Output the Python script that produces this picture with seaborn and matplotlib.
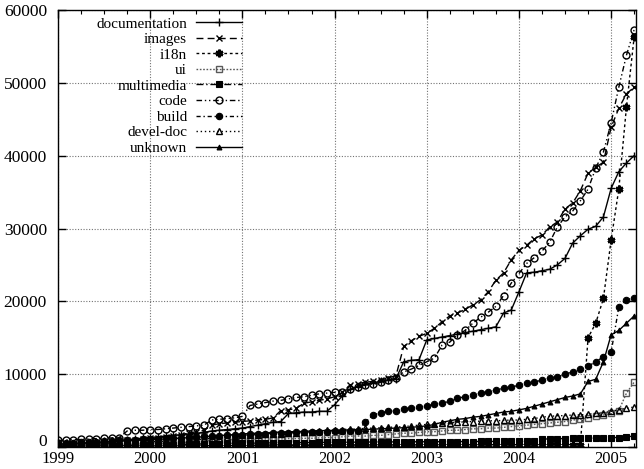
import numpy as np
import pandas as pd
import matplotlib
matplotlib.use("Agg")
import matplotlib.pyplot as plt
from matplotlib.ticker import MultipleLocator, FuncFormatter
import seaborn as sns

# monthly snapshots, Jan 1999 .. Apr 2005
months = pd.date_range("1999-01-01", "2005-04-01", freq="MS")

documentation = [300, 350, 400, 450, 500, 600, 700, 800, 900, 1000, 1100, 1200,
                 1300, 1400, 1500, 1600, 1700, 1800, 1900, 2000, 2200, 2300, 2400, 2500,
                 2600, 2800, 3000, 3200, 3400, 3500, 4600, 4700, 4800, 4800, 4900, 4900,
                 5800, 7000, 7900, 8300, 8600, 8800, 9000, 9200, 9400, 11700, 11900, 12000,
                 14700, 14900, 15100, 15300, 15500, 15700, 15900, 16100, 16300, 16500, 18400, 18800,
                 21300, 23900, 24000, 24200, 24400, 25000, 25900, 28000, 29000, 29900, 30300, 31600,
                 35500, 37800, 39000, 40000]
images = [300, 350, 400, 450, 500, 550, 600, 700, 800, 900, 1000, 1100,
          1200, 1300, 1400, 1500, 1700, 1900, 2100, 2300, 3000, 3200, 3300, 3400,
          3500, 3600, 3700, 3800, 4000, 5000, 5100, 5300, 6000, 6200, 6400, 6600,
          6900, 7500, 8500, 8700, 8900, 9000, 9200, 9500, 9800, 13800, 14600, 15200,
          15600, 16300, 17200, 18000, 18400, 18900, 19500, 20200, 21300, 22900, 23900, 25700,
          27000, 27700, 28600, 29100, 30200, 30900, 32700, 33500, 35200, 37600, 38400, 39100,
          43900, 46500, 48500, 49400]
i18n = [100, 100, 100, 100, 100, 120, 120, 120, 120, 130, 130, 130,
        150, 150, 150, 160, 160, 170, 170, 180, 180, 190, 190, 200,
        200, 200, 210, 210, 220, 220, 220, 230, 230, 230, 240, 240,
        250, 250, 250, 260, 260, 260, 270, 270, 270, 280, 280, 280,
        290, 290, 290, 300, 300, 300, 300, 300, 310, 310, 310, 310,
        320, 320, 320, 320, 330, 330, 330, 330, 340, 15000, 17000, 20400,
        28400, 35400, 46700, 56300]
ui = [100, 120, 150, 180, 200, 230, 260, 300, 330, 360, 400, 430,
      460, 500, 530, 560, 600, 650, 700, 800, 900, 950, 1000, 1000,
      1000, 1050, 1050, 1100, 1100, 1100, 1150, 1150, 1200, 1200, 1250, 1300,
      1300, 1400, 1500, 1500, 1500, 1600, 1600, 1700, 1800, 1900, 1900, 2000,
      2100, 2100, 2200, 2300, 2300, 2400, 2500, 2500, 2600, 2600, 2700, 2800,
      2900, 3000, 3100, 3200, 3300, 3400, 3500, 3700, 3800, 4000, 4200, 4400,
      4600, 5000, 7400, 8900]
multimedia = [50, 60, 80, 100, 120, 140, 160, 180, 200, 220, 240, 260,
              280, 300, 320, 340, 360, 380, 400, 420, 440, 460, 480, 500,
              500, 520, 540, 550, 560, 570, 580, 590, 600, 610, 620, 630,
              640, 650, 660, 670, 680, 690, 700, 700, 700, 710, 710, 720,
              720, 730, 730, 740, 740, 750, 750, 760, 760, 770, 770, 780,
              780, 790, 800, 1100, 1100, 1150, 1150, 1200, 1200, 1200, 1250, 1250,
              1300, 1300, 1400, 1500]
code = [900, 950, 1000, 1050, 1100, 1150, 1200, 1250, 1300, 2200, 2300, 2300,
        2400, 2400, 2500, 2600, 2700, 2800, 2900, 3000, 3700, 3800, 3900, 4000,
        4200, 5700, 5900, 6100, 6300, 6400, 6600, 6800, 6900, 7100, 7300, 7400,
        7500, 7600, 7900, 8200, 8500, 8700, 8900, 9200, 9500, 10300, 10700, 11200,
        11700, 12200, 14000, 14400, 15400, 16000, 17000, 17800, 18500, 19300, 20800, 22500,
        23800, 25200, 26000, 26900, 28100, 30200, 31600, 32400, 33800, 35400, 38300, 40500,
        44500, 49400, 53800, 57300]
build = [500, 550, 600, 650, 700, 750, 800, 850, 900, 950, 1000, 1050,
         1100, 1150, 1200, 1250, 1300, 1350, 1400, 1450, 1500, 1550, 1600, 1650,
         1700, 1750, 1800, 1850, 1900, 1900, 1950, 2000, 2000, 2050, 2100, 2100,
         2150, 2200, 2200, 2250, 3400, 4400, 4700, 4900, 5000, 5200, 5400, 5500,
         5600, 5900, 6000, 6300, 6700, 6900, 7100, 7400, 7600, 7800, 8100, 8200,
         8500, 8800, 8900, 9200, 9500, 9600, 10000, 10300, 10700, 11100, 11700, 12400,
         13000, 19200, 20200, 20500]
devel_doc = [200, 230, 260, 300, 340, 380, 420, 460, 500, 550, 600, 650,
             700, 750, 800, 850, 900, 950, 1000, 1100, 1200, 1300, 1400, 1500,
             1600, 1650, 1700, 1750, 1800, 1850, 1900, 1950, 2000, 2100, 2200, 2300,
             2350, 2400, 2450, 2500, 2550, 2600, 2650, 2700, 2750, 2800, 2900, 3000,
             3100, 3200, 3300, 3350, 3400, 3450, 3500, 3550, 3600, 3600, 3650, 3700,
             3700, 3800, 3900, 4100, 4200, 4300, 4300, 4400, 4400, 4500, 4600, 4700,
             4900, 5100, 5300, 5500]
unknown = [400, 450, 500, 550, 600, 650, 700, 750, 800, 850, 900, 950,
           1000, 1050, 1100, 1150, 1200, 1300, 1350, 1400, 1500, 1550, 1650, 1700,
           1800, 1850, 1900, 1950, 2000, 2050, 2100, 2100, 2150, 2200, 2250, 2250,
           2300, 2300, 2350, 2400, 2400, 2450, 2500, 2550, 2600, 2650, 2700, 2800,
           2900, 3100, 3400, 3600, 3800, 3900, 4100, 4200, 4400, 4600, 4800, 4900,
           5100, 5300, 5600, 5900, 6200, 6500, 6800, 7000, 7300, 9000, 9300, 11700,
           15400, 16000, 17000, 18000]

series_names = ["documentation", "images", "i18n", "ui", "multimedia",
                "code", "build", "devel-doc", "unknown"]
series_values = [documentation, images, i18n, ui, multimedia,
                 code, build, devel_doc, unknown]

year_frac = months.year + (months.month - 1) / 12.0

styles = {
    "documentation": dict(linestyle="-", marker="+", markersize=5.5, markeredgewidth=1.0,
                          markerfacecolor="k", markeredgecolor="k", color="k"),
    "images": dict(linestyle=(0, (5, 3)), marker="x", markersize=4.5, markeredgewidth=1.0,
                   markerfacecolor="k", markeredgecolor="k", color="k"),
    "i18n": dict(linestyle=(0, (2, 2)), marker=(6, 2, 0), markersize=5.5, markeredgewidth=1.8,
                 markerfacecolor="k", markeredgecolor="k", color="k"),
    "ui": dict(linestyle=(0, (1.2, 1.2)), marker="s", markersize=4.5, markeredgewidth=1.0,
               markerfacecolor="none", markeredgecolor="0.35", color="0.35"),
    "multimedia": dict(linestyle=(0, (5, 2, 1, 2)), marker="s", markersize=4.2, markeredgewidth=0.8,
                       markerfacecolor="k", markeredgecolor="k", color="k"),
    "code": dict(linestyle=(0, (4, 2, 1, 2, 1, 2)), marker="o", markersize=5.0, markeredgewidth=1.0,
                 markerfacecolor="none", markeredgecolor="k", color="k"),
    "build": dict(linestyle=(0, (3, 2, 1, 2)), marker="o", markersize=4.6, markeredgewidth=0.8,
                  markerfacecolor="k", markeredgecolor="k", color="k"),
    "devel-doc": dict(linestyle=(0, (1, 2)), marker="^", markersize=5.0, markeredgewidth=1.0,
                      markerfacecolor="none", markeredgecolor="k", color="k"),
    "unknown": dict(linestyle="-", marker="^", markersize=3.5, markeredgewidth=0.8,
                    markerfacecolor="k", markeredgecolor="k", color="k"),
}

plt.rcParams["font.family"] = ["Liberation Serif", "DejaVu Serif"]
plt.rcParams["font.size"] = 11

fig = plt.figure(figsize=(6.44, 4.69), dpi=100)
ax = fig.add_axes([58 / 644, 1 - 447 / 469, (636 - 58) / 644, (447 - 10) / 469])

for name, vals in zip(series_names, series_values):
    df = pd.DataFrame({"year": year_frac, "value": vals})
    sns.lineplot(data=df, x="year", y="value", ax=ax, label=name, linewidth=1.0,
                 errorbar=None, sort=False, **styles[name])

ax.set_xlim(1999, 2005.27)
ax.set_ylim(0, 60000)
ax.xaxis.set_major_locator(MultipleLocator(1))
ax.xaxis.set_minor_locator(MultipleLocator(0.25))
ax.yaxis.set_major_locator(MultipleLocator(10000))
ax.xaxis.set_major_formatter(FuncFormatter(lambda v, p: f"{int(round(v))}"))
# the "0" label is placed separately so it sits just above the year labels
ax.yaxis.set_major_formatter(FuncFormatter(lambda v, p: "" if abs(v) < 1 else f"{int(round(v))}"))
ax.set_xlabel("")
ax.set_ylabel("")
ax.grid(True, which="major", linestyle=(0, (1, 1.5)), color="0.45", linewidth=0.8)
ax.tick_params(which="both", direction="in", top=True, right=True)
ax.tick_params(axis="x", which="major", pad=3, labelsize=12)
ax.tick_params(axis="y", which="major", pad=8, labelsize=12.5)
ax.tick_params(which="major", length=6, width=1)
ax.tick_params(which="minor", length=3, width=0.8)
for s in ax.spines.values():
    s.set_linewidth(1.0)
    s.set_color("k")

ax.annotate("0", xy=(0, 0), xycoords=ax.get_yaxis_transform(), xytext=(-8, 0.5),
            textcoords="offset points", ha="right", va="baseline", fontsize=12.5)

leg = ax.legend(loc="upper right", bbox_to_anchor=((242 - 58) / 578, (447 - 17) / 437),
                frameon=False, markerfirst=False, numpoints=1, handlelength=3.0,
                handletextpad=0.6, labelspacing=0.12, borderaxespad=0, borderpad=0,
                fontsize=11)

fig.savefig("out.png", dpi=100)
